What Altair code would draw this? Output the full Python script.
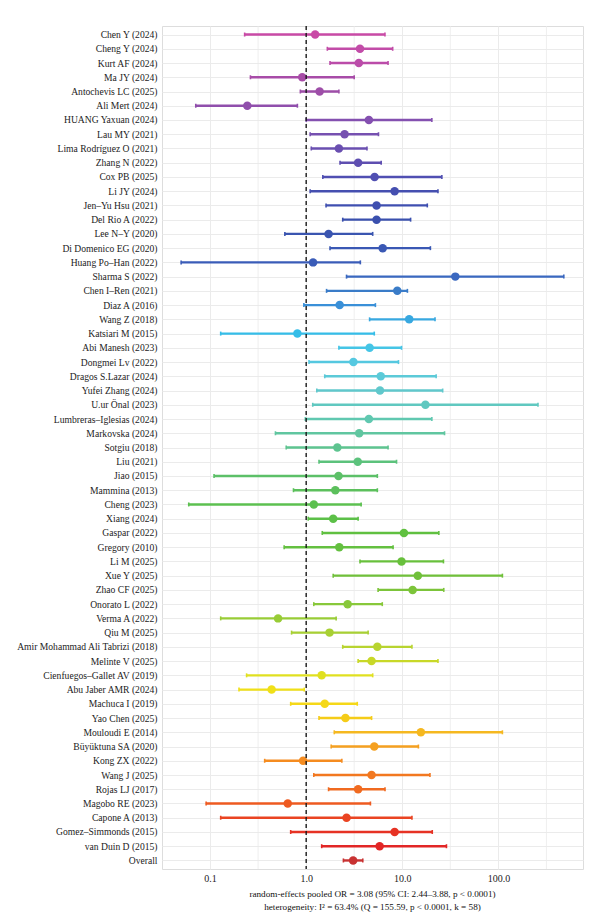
import altair as alt
import pandas as pd

# Study-level odds ratios with 95% confidence limits (top to bottom), pooled estimate last
studies = [
    "Chen Y (2024)", "Cheng Y (2024)", "Kurt AF (2024)", "Ma JY (2024)",
    "Antochevis LC (2025)", "Ali Mert (2024)", "HUANG Yaxuan (2024)", "Lau MY (2021)",
    "Lima Rodríguez O (2021)", "Zhang N (2022)", "Cox PB (2025)", "Li JY (2024)",
    "Jen–Yu Hsu (2021)", "Del Rio A (2022)", "Lee N–Y (2020)", "Di Domenico EG (2020)",
    "Huang Po–Han (2022)", "Sharma S (2022)", "Chen I–Ren (2021)", "Diaz A (2016)",
    "Wang Z (2018)", "Katsiari M (2015)", "Abi Manesh (2023)", "Dongmei Lv (2022)",
    "Dragos S.Lazar (2024)", "Yufei Zhang (2024)", "U.ur Önal (2023)",
    "Lumbreras–Iglesias (2024)", "Markovska (2024)", "Sotgiu (2018)", "Liu (2021)",
    "Jiao (2015)", "Mammina (2013)", "Cheng (2023)", "Xiang (2024)", "Gaspar (2022)",
    "Gregory (2010)", "Li M (2025)", "Xue Y (2025)", "Zhao CF (2025)", "Onorato L (2022)",
    "Verma A (2022)", "Qiu M (2025)", "Amir Mohammad Ali Tabrizi (2018)", "Melinte V (2025)",
    "Cienfuegos–Gallet AV (2019)", "Abu Jaber AMR (2024)", "Machuca I (2019)",
    "Yao Chen (2025)", "Mouloudi E (2014)", "Büyüktuna SA (2020)", "Kong ZX (2022)",
    "Wang J (2025)", "Rojas LJ (2017)", "Magobo RE (2023)", "Capone A (2013)",
    "Gomez–Simmonds (2015)", "van Duin D (2015)", "Overall",
]
odds_ratio = [
    1.24, 3.63, 3.53, 0.91, 1.38, 0.244, 4.49, 2.51, 2.19, 3.47, 5.15, 8.32,
    5.40, 5.40, 1.71, 6.25, 1.18, 35.6, 8.87, 2.23, 11.8, 0.81, 4.57, 3.10,
    5.97, 5.86, 17.4, 4.49, 3.56, 2.11, 3.44, 2.17, 2.01, 1.20, 1.91, 10.4,
    2.21, 9.82, 14.5, 12.8, 2.70, 0.51, 1.75, 5.50, 4.79, 1.45, 0.437, 1.56,
    2.56, 15.6, 5.11, 0.929, 4.79, 3.47, 0.643, 2.63, 8.32, 5.81, 3.08,
]
ci_lower = [
    0.229, 1.66, 1.77, 0.263, 0.87, 0.071, 1.00, 1.10, 1.13, 2.25, 1.49, 1.10,
    1.61, 2.40, 0.60, 1.77, 0.050, 2.63, 1.63, 0.946, 4.57, 0.129, 2.19, 1.07,
    1.56, 1.29, 1.17, 0.98, 0.479, 0.62, 1.36, 0.110, 0.738, 0.060, 1.05, 1.47,
    0.59, 3.63, 1.91, 5.60, 1.20, 0.129, 0.705, 2.40, 3.47, 0.24, 0.20, 0.69,
    1.36, 1.96, 1.82, 0.37, 1.20, 1.71, 0.091, 0.129, 0.69, 1.45, 2.44,
]
ci_upper = [
    6.6, 7.94, 7.11, 3.16, 2.19, 0.81, 20.3, 5.65, 4.29, 6.03, 25.8, 23.5,
    18.2, 12.2, 4.92, 19.6, 3.66, 479, 11.3, 5.25, 21.9, 5.11, 9.82, 9.12,
    22.5, 26.3, 258, 20.3, 27.5, 7.11, 8.71, 5.50, 5.50, 3.73, 3.47, 24.0,
    8.02, 26.8, 110, 27.0, 6.19, 2.05, 4.41, 12.6, 23.5, 4.92, 0.955, 3.40,
    4.79, 110, 14.7, 2.35, 19.4, 6.61, 4.66, 12.6, 20.5, 28.8, 3.88,
]

# Rainbow palette running magenta -> blue -> cyan -> green -> yellow -> red
row_colors = [
    "#c94aa6", "#c24ca8", "#bb4ca9", "#a84ca8", "#9e4ea8", "#904fac", "#8450b0",
    "#7650b0", "#6a4fb0", "#5e4eb0", "#504fb2", "#454fb0", "#3f4fb0", "#3a50ae",
    "#3a55b0", "#3a58b4", "#3a5cb8", "#3a68c0", "#3a7cc8", "#3a90d8", "#38a8e0",
    "#35bde8", "#45c5e6", "#55c8e0", "#5ccad8", "#60c8cc", "#60c8c0", "#60c8b0",
    "#60c6a0", "#5ec490", "#5cc27c", "#5cc068", "#5cc05c", "#5cc050", "#5cc048",
    "#60c040", "#64c040", "#68c03c", "#70c03a", "#7cc43a", "#88c83a", "#98cc36",
    "#a8d034", "#b8d430", "#c8d828", "#e0e020", "#f0e018", "#f5d818", "#f5cc18",
    "#f5b820", "#f5a020", "#f58c20", "#f27820", "#f06a20", "#ee5a20", "#ea4422",
    "#e63224", "#e22626", "#c83232",
]

major_breaks = [0.1, 1, 10, 100]
minor_breaks = [0.316, 3.16, 31.6, 316]
null_effect = [1]

caption = [
    "random-effects pooled OR = 3.08 (95% CI: 2.44–3.88, p < 0.0001)",
    "heterogeneity: I² = 63.4% (Q = 155.59, p < 0.0001, k = 58)",
]

FONT = "Liberation Serif, Times New Roman, serif"

df = pd.DataFrame({"study": studies, "or": odds_ratio, "lo": ci_lower, "hi": ci_upper})

x_scale = alt.Scale(type="log", domain=[10 ** -1.5, 10 ** 2.88], nice=False)
y_scale = alt.Scale(type="point", padding=0.6)
color = alt.Color("study:N", scale=alt.Scale(domain=studies, range=row_colors), legend=None)

y_axis = alt.Axis(
    title=None, ticks=False, domain=False, grid=True, gridColor="#ebebeb",
    gridWidth=1.1, labelPadding=5, labelFont=FONT, labelFontSize=9.6,
    labelColor="#222222", labelLimit=300,
)
x_axis = alt.Axis(
    title=None, values=major_breaks, format=".1f", ticks=False, domain=False,
    grid=True, gridColor="#ebebeb", gridWidth=1, labelPadding=4,
    labelFont=FONT, labelFontSize=10, labelColor="#222222",
)

minor_grid = alt.Chart(pd.DataFrame({"v": minor_breaks})).mark_rule(
    color="#ebebeb", strokeWidth=0.8
).encode(x=alt.X("v:Q", scale=x_scale))

bars = alt.Chart(df).mark_rule(strokeWidth=2.4).encode(
    y=alt.Y("study:N", sort=studies, scale=y_scale, axis=y_axis),
    x=alt.X("lo:Q", scale=x_scale, axis=x_axis),
    x2="hi:Q",
    color=color,
)

cap_lo = alt.Chart(df).mark_tick(size=4, thickness=1.6, opacity=1).encode(
    y=alt.Y("study:N", sort=studies, scale=y_scale),
    x=alt.X("lo:Q", scale=x_scale),
    color=color,
)
cap_hi = alt.Chart(df).mark_tick(size=4, thickness=1.6, opacity=1).encode(
    y=alt.Y("study:N", sort=studies, scale=y_scale),
    x=alt.X("hi:Q", scale=x_scale),
    color=color,
)

points = alt.Chart(df).mark_circle(size=72, opacity=1).encode(
    y=alt.Y("study:N", sort=studies, scale=y_scale),
    x=alt.X("or:Q", scale=x_scale),
    color=color,
)

ref_line = alt.Chart(pd.DataFrame({"ref": null_effect})).mark_rule(
    color="#1a1a1a", strokeDash=[4, 3], strokeWidth=1.4
).encode(x=alt.X("ref:Q", scale=x_scale))

chart = alt.layer(minor_grid, bars, cap_lo, cap_hi, points, ref_line).properties(
    width=421,
    height=843,
    autosize=alt.AutoSizeParams(type="none"),
    padding={"left": 162, "top": 26, "right": 17, "bottom": 47},
    title=alt.TitleParams(
        text=caption, orient="bottom", anchor="middle", font=FONT,
        fontSize=9.2, fontWeight="normal", color="#111111", lineHeight=12.5, offset=7,
    ),
).configure_view(stroke=None).configure(background="white")

chart.save("out.html", embed_options={"renderer": "svg", "actions": False})
